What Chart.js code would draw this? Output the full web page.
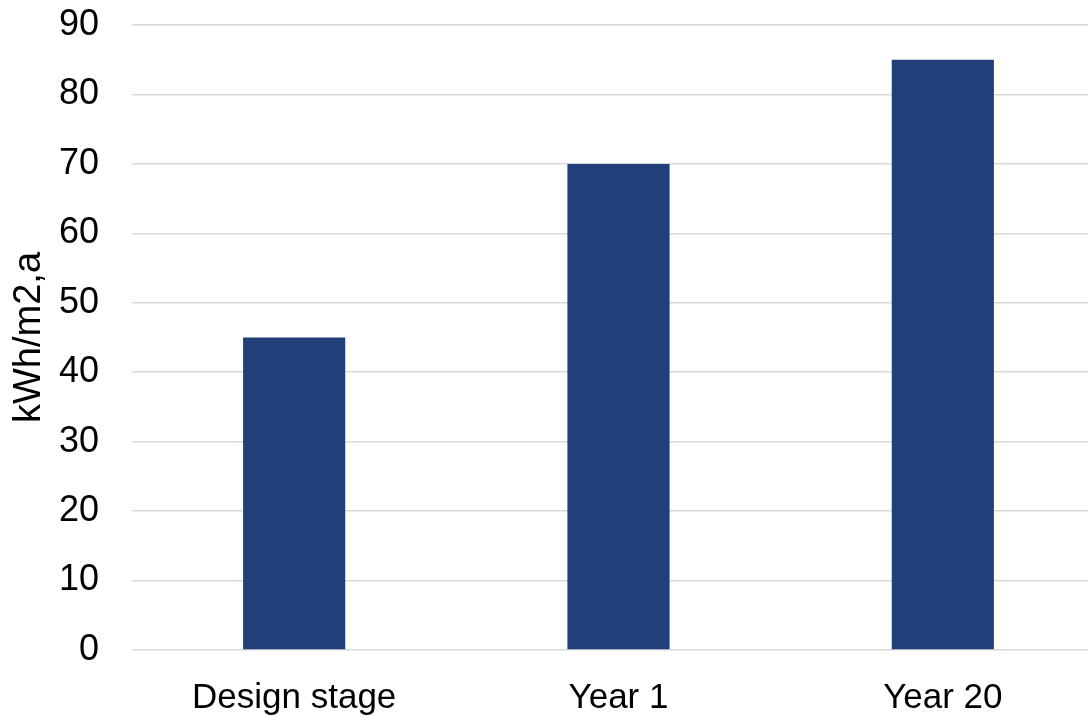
<!DOCTYPE html>
<html>
<head>
<meta charset="utf-8">
<script src="https://cdn.jsdelivr.net/npm/chart.js@4/dist/chart.umd.min.js"></script>
<style>
    html, body { margin: 0; padding: 0; background: #ffffff; overflow: hidden; }
    #wrap { width: 1110px; height: 716px; }
</style>
</head>
<body>
<div id="wrap">
    <canvas id="energyChart" width="1110" height="716"></canvas>
</div>
<script>
// Energy use per floor area over the building's life
const stages = ['Design stage', 'Year 1', 'Year 20'];
const energyUse = [45, 70, 85];
const yTicks = [0, 10, 20, 30, 40, 50, 60, 70, 80, 90];

const barColor = '#21407a';
const gridColor = '#d9d9d9';
const fontFamily = 'Liberation Sans, Arial, sans-serif';

window.onload = function() {
    const ctx = document.getElementById('energyChart').getContext('2d');

    new Chart(ctx, {
        type: 'bar',
        data: {
            labels: stages,
            datasets: [{
                label: 'kWh/m2,a',
                data: energyUse,
                backgroundColor: barColor,
                borderWidth: 0,
                barPercentage: 1.0,
                categoryPercentage: 0.315
            }]
        },
        options: {
            responsive: false,
            animation: false,
            layout: {
                padding: { top: 25, right: 5, bottom: 0, left: 7 }
            },
            plugins: {
                legend: { display: false },
                tooltip: { enabled: false }
            },
            scales: {
                x: {
                    grid: { display: false, drawTicks: false },
                    border: { display: false },
                    ticks: {
                        color: '#000000',
                        font: { family: fontFamily, size: 35 },
                        padding: 27,
                        maxRotation: 0
                    },
                    afterFit: axis => { axis.height = 66; }
                },
                y: {
                    min: 0,
                    max: 90,
                    afterBuildTicks: axis => {
                        axis.ticks = yTicks.map(v => ({ value: v }));
                    },
                    grid: {
                        color: gridColor,
                        lineWidth: 1.5,
                        drawTicks: false
                    },
                    border: { display: false },
                    ticks: {
                        color: '#000000',
                        font: { family: fontFamily, size: 36 },
                        padding: 33
                    },
                    title: {
                        display: true,
                        text: 'kWh/m2,a',
                        color: '#000000',
                        font: { family: fontFamily, size: 38 },
                        padding: { top: 0, bottom: 0 }
                    },
                    // fixed axis box so the plot starts where the grid does
                    afterFit: axis => {
                        axis.width = 125;
                        axis.paddingTop = 0;
                        axis.paddingBottom = 0;
                    }
                }
            }
        }
    });
};
</script>
</body>
</html>
